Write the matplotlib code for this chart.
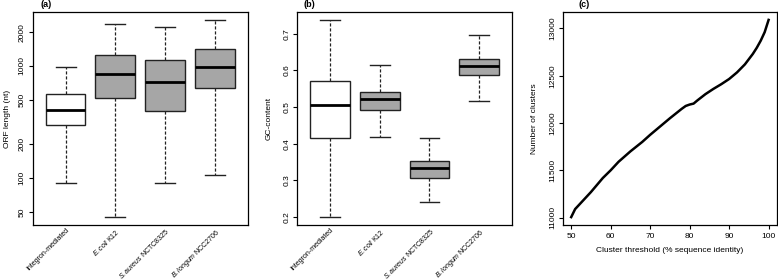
import matplotlib
matplotlib.use("Agg")
import matplotlib.pyplot as plt
import numpy as np

plt.rcParams['font.family'] = ['Liberation Sans', 'DejaVu Sans']
plt.rcParams['mathtext.fontset'] = 'custom'
plt.rcParams['mathtext.rm'] = 'Liberation Sans'
plt.rcParams['mathtext.it'] = 'Liberation Sans:italic'

groups = ["Integron-mediated", r"$\mathit{E.coli}$ K12",
          r"$\mathit{S.aureus}$ NCTC8325", r"$\mathit{B.longum}$ NCC2706"]
box_fill = ["white", "#a6a6a6", "#a6a6a6", "#a6a6a6"]

# ORF length (nt): whisker low, Q1, median, Q3, whisker high
orf_low = [90, 45, 90, 106]
orf_q1 = [295, 514, 397, 630]
orf_med = [408, 855, 726, 980]
orf_q3 = [563, 1251, 1130, 1405]
orf_high = [970, 2350, 2230, 2570]
orf_ticks = [50, 100, 200, 500, 1000, 2000]

# GC content
gc_low = [0.200, 0.419, 0.241, 0.517]
gc_q1 = [0.416, 0.493, 0.308, 0.588]
gc_med = [0.505, 0.522, 0.333, 0.611]
gc_q3 = [0.570, 0.541, 0.352, 0.632]
gc_high = [0.738, 0.615, 0.415, 0.696]
gc_ticks = [0.2, 0.3, 0.4, 0.5, 0.6, 0.7]

# number of clusters vs threshold
threshold = [50, 51, 53, 55, 58, 60, 62, 65, 68, 70, 72, 75, 78, 79, 80, 81,
             82, 84, 86, 88, 90, 92, 94, 96, 97, 98, 99, 100]
n_clusters = [11005, 11090, 11180, 11270, 11418, 11500, 11590, 11700, 11800,
              11875, 11945, 12050, 12150, 12180, 12195, 12205, 12240, 12305,
              12360, 12410, 12465, 12535, 12620, 12730, 12795, 12870, 12960, 13090]

W, H = 778, 280
fig = plt.figure(figsize=(W / 100, H / 100), dpi=100)


def px_axes(left, right, top, bottom):
    return fig.add_axes([left / W, (H - bottom) / H, (right - left) / W, (bottom - top) / H])


def r_pad(lo, hi, log=False):
    if log:
        lo, hi = np.log10(lo), np.log10(hi)
    d = (hi - lo) * 0.04
    lo, hi = lo - d, hi + d
    if log:
        return 10 ** lo, 10 ** hi
    return lo, hi


def boxes(ax, low, q1, med, q3, high):
    stats = []
    for i in range(len(groups)):
        stats.append(dict(whislo=low[i], q1=q1[i], med=med[i], q3=q3[i], whishi=high[i]))
    pos = np.arange(1, len(groups) + 1)
    bp = ax.bxp(stats, positions=pos, widths=0.8, showfliers=False, patch_artist=True,
                boxprops=dict(edgecolor='#222222', linewidth=1.0),
                medianprops=dict(color='black', linewidth=2.0, solid_capstyle='butt'),
                whiskerprops=dict(color='#222222', linewidth=0.9, dashes=(2.5, 1.5)),
                capprops=dict(color='#222222', linewidth=1.0),
                capwidths=0.4)
    for patch, c in zip(bp['boxes'], box_fill):
        patch.set_facecolor(c)
    ax.set_xlim(0.34, 4.66)
    ax.set_xticks(pos)
    ax.set_xticklabels(groups, rotation=45, ha='right', rotation_mode='anchor')
    ax.tick_params(axis='x', length=0, pad=1.5, labelsize=5)


def style(ax):
    for s in ax.spines.values():
        s.set_linewidth(0.9)
    ax.tick_params(axis='y', length=3, width=0.8, pad=2, labelsize=6, labelrotation=90)
    for lab in ax.get_yticklabels():
        lab.set_va('center')
    ax.minorticks_off()


# (a)
ax1 = px_axes(32.7, 247.7, 12, 225)
boxes(ax1, orf_low, orf_q1, orf_med, orf_q3, orf_high)
ax1.set_yscale('log')
ax1.set_ylim(*r_pad(min(orf_low), max(orf_high), log=True))
ax1.set_yticks(orf_ticks)
ax1.set_yticklabels([str(t) for t in orf_ticks])
style(ax1)
ax1.set_ylabel("ORF length (nt)", fontsize=6)
ax1.yaxis.set_label_coords(-0.1, 0.5)
ax1.text(0.035, 1.012, "(a)", transform=ax1.transAxes, fontsize=6.5, fontweight='bold', va='bottom')

# (b)
ax2 = px_axes(297.3, 512, 12, 225)
boxes(ax2, gc_low, gc_q1, gc_med, gc_q3, gc_high)
ax2.set_ylim(*r_pad(min(gc_low), max(gc_high)))
ax2.set_yticks(gc_ticks)
ax2.set_yticklabels([f"{t:.1f}" for t in gc_ticks])
style(ax2)
ax2.set_ylabel("GC-content", fontsize=6)
ax2.yaxis.set_label_coords(-0.115, 0.5)
ax2.text(0.027, 1.012, "(b)", transform=ax2.transAxes, fontsize=6.5, fontweight='bold', va='bottom')

# (c)
ax3 = px_axes(563.3, 776.5, 12, 225)
ax3.plot(threshold, n_clusters, color='black', linewidth=1.8)
ax3.set_xlim(*r_pad(min(threshold), max(threshold)))
ax3.set_ylim(*r_pad(min(n_clusters), max(n_clusters)))
ax3.set_xticks([50, 60, 70, 80, 90, 100])
ax3.set_yticks([11000, 11500, 12000, 12500, 13000])
style(ax3)
ax3.tick_params(axis='x', length=3, width=0.8, pad=3, labelsize=6)
ax3.set_ylabel("Number of clusters", fontsize=6)
ax3.yaxis.set_label_coords(-0.12, 0.5)
ax3.set_xlabel("Cluster threshold (% sequence identity)", fontsize=6, labelpad=5)
ax3.text(0.07, 1.012, "(c)", transform=ax3.transAxes, fontsize=6.5, fontweight='bold', va='bottom')

fig.savefig("out.png", dpi=100)
